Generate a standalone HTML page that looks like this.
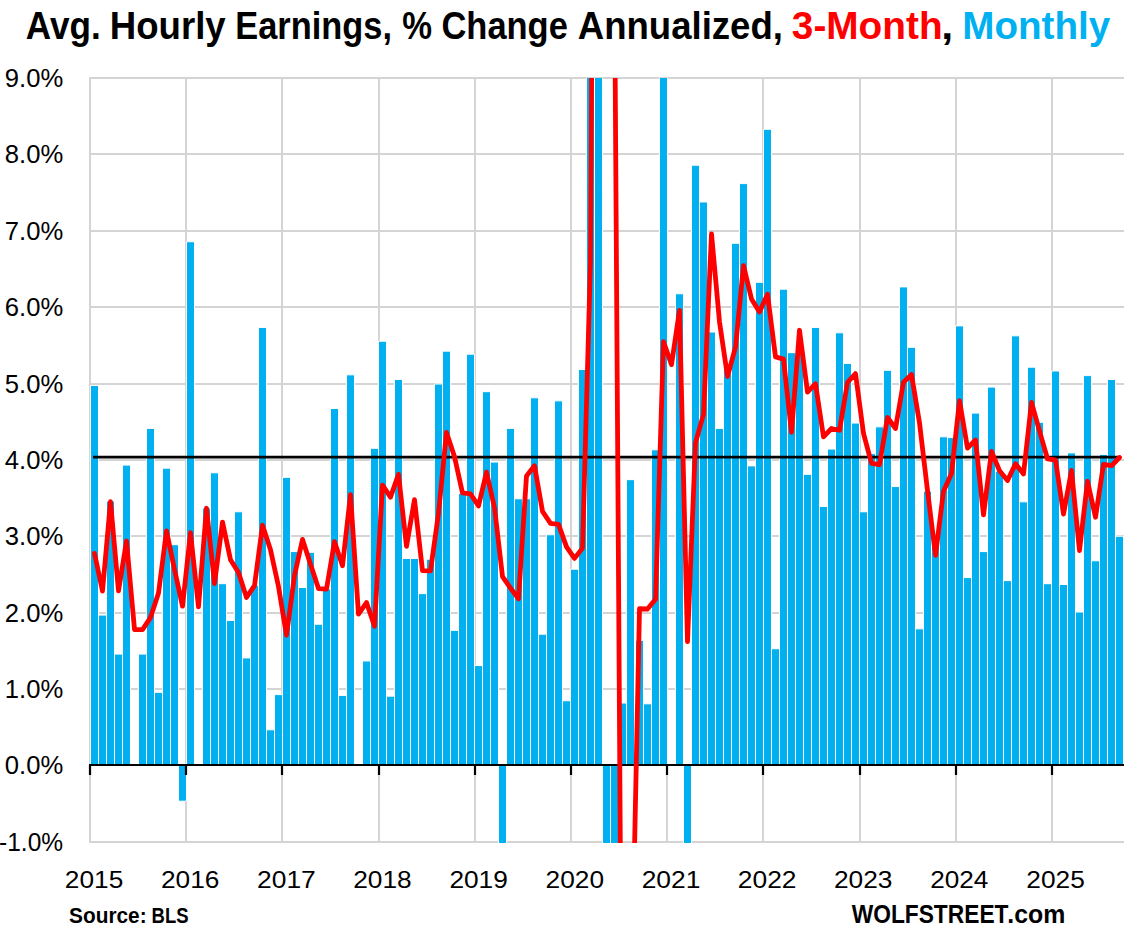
<!DOCTYPE html>
<html><head><meta charset="utf-8"><title>Avg. Hourly Earnings</title><style>html,body{margin:0;padding:0;background:#fff}body{width:1138px;height:931px;overflow:hidden;font-family:"Liberation Sans",sans-serif}</style></head><body>
<svg width="1138" height="931" viewBox="0 0 1138 931" style="display:block">
<rect width="1138" height="931" fill="#fff"/>
<defs><clipPath id="pc"><rect x="89.2" y="78.0" width="1035.8" height="765.0"/></clipPath></defs>
<path d="M89 842H1124M89 689H1124M89 613H1124M89 536H1124M89 460H1124M89 384H1124M89 307H1124M89 231H1124M89 154H1124M89 78H1124M90 77V843M186 77V843M282 77V843M379 77V843M475 77V843M571 77V843M667 77V843M763 77V843M860 77V843M956 77V843M1052 77V843" stroke="#D4D4D4" stroke-width="2" fill="none"/>
<path clip-path="url(#pc)" d="M90.50 385.56h8V765.00h-8zM98.50 615.06h8V765.00h-8zM106.50 501.07h8V765.00h-8zM114.50 654.08h8V765.00h-8zM122.50 465.12h8V765.00h-8zM138.50 654.08h8V765.00h-8zM146.50 428.40h8V765.00h-8zM154.50 692.33h8V765.00h-8zM162.50 468.18h8V765.00h-8zM170.50 544.68h8V765.00h-8zM178.50 765.00h8V801.19h-8zM186.50 241.74h8V765.00h-8zM202.50 507.96h8V765.00h-8zM210.50 472.77h8V765.00h-8zM218.50 583.69h8V765.00h-8zM226.50 620.41h8V765.00h-8zM234.50 511.78h8V765.00h-8zM242.50 657.90h8V765.00h-8zM250.50 585.23h8V765.00h-8zM258.50 327.42h8V765.00h-8zM266.50 729.81h8V765.00h-8zM274.50 694.62h8V765.00h-8zM282.50 477.36h8V765.00h-8zM290.50 551.57h8V765.00h-8zM298.50 587.52h8V765.00h-8zM306.50 552.33h8V765.00h-8zM314.50 624.24h8V765.00h-8zM322.50 589.05h8V765.00h-8zM330.50 408.51h8V765.00h-8zM338.50 695.38h8V765.00h-8zM346.50 374.85h8V765.00h-8zM362.50 660.96h8V765.00h-8zM370.50 448.29h8V765.00h-8zM378.50 341.19h8V765.00h-8zM386.50 696.15h8V765.00h-8zM394.50 379.44h8V765.00h-8zM402.50 558.45h8V765.00h-8zM410.50 558.45h8V765.00h-8zM418.50 593.64h8V765.00h-8zM426.50 559.22h8V765.00h-8zM434.50 384.03h8V765.00h-8zM442.50 351.13h8V765.00h-8zM450.50 630.36h8V765.00h-8zM458.50 493.43h8V765.00h-8zM466.50 354.19h8V765.00h-8zM474.50 665.55h8V765.00h-8zM482.50 391.68h8V765.00h-8zM490.50 462.06h8V765.00h-8zM498.50 765.00h8V849.00h-8zM506.50 428.40h8V765.00h-8zM514.50 498.78h8V765.00h-8zM522.50 498.78h8V765.00h-8zM530.50 397.80h8V765.00h-8zM538.50 634.18h8V765.00h-8zM546.50 534.74h8V765.00h-8zM554.50 400.86h8V765.00h-8zM562.50 700.74h8V765.00h-8zM570.50 569.16h8V765.00h-8zM578.50 369.50h8V765.00h-8zM586.50 72.00h8V765.00h-8zM594.50 72.00h8V765.00h-8zM602.50 765.00h8V849.00h-8zM610.50 765.00h8V849.00h-8zM618.50 703.03h8V765.00h-8zM626.50 479.66h8V765.00h-8zM635.50 640.31h8V765.00h-8zM643.50 703.80h8V765.00h-8zM651.50 449.82h8V765.00h-8zM659.50 72.00h8V765.00h-8zM675.50 293.76h8V765.00h-8zM683.50 765.00h8V849.00h-8zM691.50 165.24h8V765.00h-8zM699.50 201.96h8V765.00h-8zM707.50 332.01h8V765.00h-8zM715.50 428.40h8V765.00h-8zM723.50 367.20h8V765.00h-8zM731.50 243.27h8V765.00h-8zM739.50 183.60h8V765.00h-8zM747.50 465.88h8V765.00h-8zM755.50 282.29h8V765.00h-8zM763.50 129.28h8V765.00h-8zM771.50 648.72h8V765.00h-8zM779.50 289.17h8V765.00h-8zM787.50 352.67h8V765.00h-8zM795.50 347.31h8V765.00h-8zM803.50 474.30h8V765.00h-8zM811.50 327.42h8V765.00h-8zM819.50 506.43h8V765.00h-8zM827.50 449.06h8V765.00h-8zM835.50 332.77h8V765.00h-8zM843.50 363.38h8V765.00h-8zM851.50 423.05h8V765.00h-8zM859.50 511.78h8V765.00h-8zM867.50 453.64h8V765.00h-8zM875.50 426.87h8V765.00h-8zM883.50 370.26h8V765.00h-8zM891.50 486.54h8V765.00h-8zM899.50 286.88h8V765.00h-8zM907.50 347.31h8V765.00h-8zM915.50 628.83h8V765.00h-8zM923.50 491.13h8V765.00h-8zM931.50 543.91h8V765.00h-8zM939.50 436.81h8V765.00h-8zM947.50 437.58h8V765.00h-8zM955.50 325.89h8V765.00h-8zM963.50 577.58h8V765.00h-8zM971.50 413.10h8V765.00h-8zM979.50 551.57h8V765.00h-8zM987.50 387.09h8V765.00h-8zM995.50 471.24h8V765.00h-8zM1003.50 580.63h8V765.00h-8zM1011.50 335.83h8V765.00h-8zM1019.50 501.84h8V765.00h-8zM1027.50 367.20h8V765.00h-8zM1035.50 422.28h8V765.00h-8zM1043.50 583.69h8V765.00h-8zM1051.50 371.02h8V765.00h-8zM1059.50 584.46h8V765.00h-8zM1067.50 452.88h8V765.00h-8zM1075.50 612.00h8V765.00h-8zM1083.50 375.62h8V765.00h-8zM1091.50 560.75h8V765.00h-8zM1099.50 454.41h8V765.00h-8zM1107.50 379.44h8V765.00h-8zM1115.50 536.26h8V765.00h-8z" fill="#00B0F0" stroke="#fff" stroke-width="1.000" stroke-linejoin="miter"/>
<path d="M89 765.00H1124.00M90 765.00V775.00M186 765.00V775.00M282 765.00V775.00M379 765.00V775.00M475 765.00V775.00M571 765.00V775.00M667 765.00V775.00M763 765.00V775.00M860 765.00V775.00M956 765.00V775.00M1052 765.00V775.00" stroke="#000" stroke-width="2.2" fill="none"/>
<path d="M93.00 457.2H1121.00" stroke="#000" stroke-width="2.8" fill="none"/>
<polyline clip-path="url(#pc)" points="94.50,553.44 102.50,591.11 110.50,501.62 118.50,590.84 126.50,541.02 134.50,629.55 142.50,629.55 150.50,617.58 158.50,592.96 166.50,531.00 174.50,569.45 182.50,606.15 190.50,532.67 198.50,606.92 206.50,508.28 214.50,583.50 222.50,522.11 230.50,559.71 238.50,572.59 246.50,597.44 254.50,585.70 262.50,525.28 270.50,549.74 278.50,586.54 286.50,635.23 294.50,575.53 302.50,539.45 310.50,564.32 318.50,588.59 326.50,589.10 334.50,541.66 342.50,565.71 350.50,494.73 358.50,614.08 366.50,602.50 374.50,626.36 382.50,485.10 390.50,497.11 398.50,474.37 406.50,546.25 414.50,499.73 422.50,570.70 430.50,570.95 438.50,513.33 446.50,432.48 454.50,456.66 462.50,492.96 470.50,493.96 478.50,505.92 486.50,472.20 494.50,507.79 502.50,576.54 510.50,588.02 518.50,598.73 526.50,475.89 534.50,465.76 542.50,511.35 550.50,523.33 558.50,524.34 566.50,546.90 574.50,558.38 582.50,548.14 590.50,260.60 598.50,-1055.20 606.50,-917.50 614.50,-27.80 622.50,1174.01 630.50,1040.90 639.50,608.73 647.50,608.99 655.50,599.22 663.50,341.69 671.50,364.64 679.50,310.32 687.50,641.57 695.50,442.67 703.50,414.37 711.50,233.88 719.50,321.82 727.50,376.47 735.50,347.16 743.50,265.55 751.50,299.00 759.50,311.94 767.50,294.15 775.50,356.90 783.50,359.18 791.50,432.24 799.50,330.27 807.50,392.14 815.50,383.77 823.50,436.93 831.50,428.48 839.50,430.25 847.50,382.39 855.50,373.65 863.50,433.47 871.50,463.41 879.50,464.68 887.50,417.50 895.50,428.53 903.50,382.14 911.50,374.51 919.50,422.90 927.50,490.42 935.50,555.33 943.50,491.24 951.50,473.43 959.50,400.77 967.50,448.18 975.50,440.04 983.50,514.91 991.50,451.41 999.50,470.75 1007.50,480.55 1015.50,463.70 1023.50,473.92 1031.50,402.45 1039.50,431.13 1047.50,458.76 1055.50,460.02 1063.50,514.19 1071.50,470.44 1079.50,550.59 1087.50,481.28 1095.50,517.27 1103.50,464.45 1111.50,465.71 1119.50,457.46" fill="none" stroke="#FF0000" stroke-width="4.8" stroke-linejoin="round" stroke-linecap="round"/>
<text transform="translate(25.85 38.90) scale(0.8943 1)" font-family="Liberation Sans, sans-serif" font-weight="bold" font-size="39.28" fill="#000">Avg.</text>
<text transform="translate(109.74 38.90) scale(0.9328 1)" font-family="Liberation Sans, sans-serif" font-weight="bold" font-size="39.28" fill="#000">Hourly</text>
<text transform="translate(235.29 38.90) scale(0.8762 1)" font-family="Liberation Sans, sans-serif" font-weight="bold" font-size="39.28" fill="#000">Earnings,</text>
<text transform="translate(402.30 38.90) scale(0.8528 1)" font-family="Liberation Sans, sans-serif" font-weight="bold" font-size="39.28" fill="#000">%</text>
<text transform="translate(441.42 38.90) scale(0.8780 1)" font-family="Liberation Sans, sans-serif" font-weight="bold" font-size="39.28" fill="#000">Change</text>
<text transform="translate(577.80 38.90) scale(0.9307 1)" font-family="Liberation Sans, sans-serif" font-weight="bold" font-size="39.28" fill="#000">Annualized,</text>
<text transform="translate(791.82 38.90) scale(0.9877 1)" font-family="Liberation Sans, sans-serif" font-weight="bold" font-size="39.28" fill="#FF0000">3-Month</text>
<text transform="translate(941.30 38.90) scale(1.0912 1)" font-family="Liberation Sans, sans-serif" font-weight="bold" font-size="39.28" fill="#000">,</text>
<text transform="translate(962.30 38.90) scale(0.9832 1)" font-family="Liberation Sans, sans-serif" font-weight="bold" font-size="39.28" fill="#00B0F0">Monthly</text>
<text transform="translate(-0.98 850.90) scale(0.9755 1)" font-family="Liberation Sans, sans-serif" font-weight="normal" font-size="25.14" fill="#000">-1.0%</text>
<text transform="translate(4.85 773.90) scale(1.0200 1)" font-family="Liberation Sans, sans-serif" font-weight="normal" font-size="25.14" fill="#000">0.0%</text>
<text transform="translate(4.85 697.90) scale(1.0200 1)" font-family="Liberation Sans, sans-serif" font-weight="normal" font-size="25.14" fill="#000">1.0%</text>
<text transform="translate(4.85 621.90) scale(1.0200 1)" font-family="Liberation Sans, sans-serif" font-weight="normal" font-size="25.14" fill="#000">2.0%</text>
<text transform="translate(4.85 544.90) scale(1.0200 1)" font-family="Liberation Sans, sans-serif" font-weight="normal" font-size="25.14" fill="#000">3.0%</text>
<text transform="translate(4.85 468.90) scale(1.0200 1)" font-family="Liberation Sans, sans-serif" font-weight="normal" font-size="25.14" fill="#000">4.0%</text>
<text transform="translate(4.85 392.90) scale(1.0200 1)" font-family="Liberation Sans, sans-serif" font-weight="normal" font-size="25.14" fill="#000">5.0%</text>
<text transform="translate(4.85 315.90) scale(1.0200 1)" font-family="Liberation Sans, sans-serif" font-weight="normal" font-size="25.14" fill="#000">6.0%</text>
<text transform="translate(4.85 239.90) scale(1.0200 1)" font-family="Liberation Sans, sans-serif" font-weight="normal" font-size="25.14" fill="#000">7.0%</text>
<text transform="translate(4.85 162.90) scale(1.0200 1)" font-family="Liberation Sans, sans-serif" font-weight="normal" font-size="25.14" fill="#000">8.0%</text>
<text transform="translate(4.85 86.90) scale(1.0200 1)" font-family="Liberation Sans, sans-serif" font-weight="normal" font-size="25.14" fill="#000">9.0%</text>
<text transform="translate(64.79 888.10) scale(1.0638 1)" font-family="Liberation Sans, sans-serif" font-weight="normal" font-size="24.71" fill="#000">2015</text>
<text transform="translate(160.94 888.10) scale(1.0638 1)" font-family="Liberation Sans, sans-serif" font-weight="normal" font-size="24.71" fill="#000">2016</text>
<text transform="translate(257.08 888.10) scale(1.0688 1)" font-family="Liberation Sans, sans-serif" font-weight="normal" font-size="24.71" fill="#000">2017</text>
<text transform="translate(353.24 888.10) scale(1.0638 1)" font-family="Liberation Sans, sans-serif" font-weight="normal" font-size="24.71" fill="#000">2018</text>
<text transform="translate(449.39 888.10) scale(1.0638 1)" font-family="Liberation Sans, sans-serif" font-weight="normal" font-size="24.71" fill="#000">2019</text>
<text transform="translate(545.54 888.10) scale(1.0638 1)" font-family="Liberation Sans, sans-serif" font-weight="normal" font-size="24.71" fill="#000">2020</text>
<text transform="translate(641.68 888.10) scale(1.0688 1)" font-family="Liberation Sans, sans-serif" font-weight="normal" font-size="24.71" fill="#000">2021</text>
<text transform="translate(737.83 888.10) scale(1.0688 1)" font-family="Liberation Sans, sans-serif" font-weight="normal" font-size="24.71" fill="#000">2022</text>
<text transform="translate(833.99 888.10) scale(1.0638 1)" font-family="Liberation Sans, sans-serif" font-weight="normal" font-size="24.71" fill="#000">2023</text>
<text transform="translate(930.14 888.10) scale(1.0588 1)" font-family="Liberation Sans, sans-serif" font-weight="normal" font-size="24.71" fill="#000">2024</text>
<text transform="translate(1026.29 888.10) scale(1.0638 1)" font-family="Liberation Sans, sans-serif" font-weight="normal" font-size="24.71" fill="#000">2025</text>
<text transform="translate(69.08 922.60) scale(0.9713 1)" font-family="Liberation Sans, sans-serif" font-weight="bold" font-size="21.45" fill="#000">Source:</text>
<text transform="translate(151.61 922.60) scale(0.8609 1)" font-family="Liberation Sans, sans-serif" font-weight="bold" font-size="21.45" fill="#000">BLS</text>
<text transform="translate(851.70 922.60) scale(0.9137 1)" font-family="Liberation Sans, sans-serif" font-weight="bold" font-size="24.93" fill="#000">WOLFSTREET</text>
<text transform="translate(1007.36 922.60) scale(0.9974 1)" font-family="Liberation Sans, sans-serif" font-weight="bold" font-size="24.93" fill="#000">.com</text>
</svg>
</body></html>
